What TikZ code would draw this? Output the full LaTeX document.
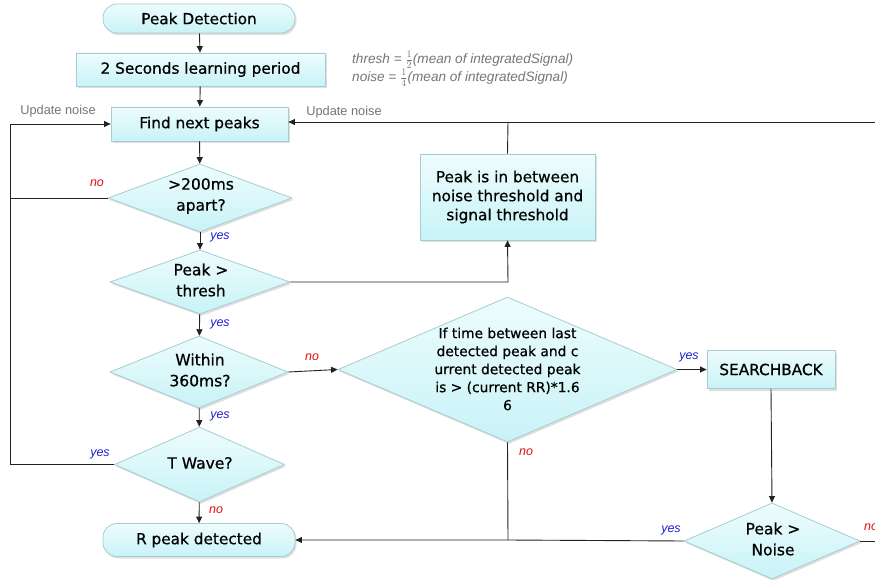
\documentclass[tikz,border=0pt]{standalone}
\usepackage{fontspec}
\setmainfont{DejaVu Sans}
\newfontfamily\boxfont[FakeBold=0.6]{DejaVu Sans}
\newfontfamily\annfont{Liberation Sans}
\usetikzlibrary{shapes.geometric,arrows.meta,shadows}
\definecolor{boxtop}{HTML}{EEFCFD}
\definecolor{boxbot}{HTML}{C8F3F7}
\definecolor{boxline}{HTML}{A6CDD2}
\definecolor{lnk}{HTML}{222222}
\definecolor{yescol}{HTML}{1E1EDC}
\definecolor{nocol}{HTML}{E01010}
\definecolor{updcol}{HTML}{767676}
\tikzset{
  fillbox/.style={draw=boxline, line width=0.8pt, top color=boxtop, bottom color=boxbot,
    drop shadow={opacity=0.25, shadow xshift=1.5pt, shadow yshift=-2pt}},
  rectbox/.style={fillbox, rectangle, inner sep=0pt, font=\boxfont\fontsize{15.3}{19}\selectfont, align=center},
  pill/.style={fillbox, rectangle, rounded corners=14pt, inner sep=0pt, font=\boxfont\fontsize{15.3}{19}\selectfont},
  dia/.style={fillbox, diamond, inner sep=0pt},
  diatext/.style={font=\boxfont\fontsize{15.5}{21}\selectfont, align=center, inner sep=0pt},
  conn/.style={draw=lnk, line width=0.9pt},
  arr/.style={conn, -{Triangle[length=6.5pt,width=6pt]}},
  yeslab/.style={text=yescol, font=\annfont\itshape\fontsize{12.5}{13}\selectfont, inner sep=0pt},
  nolab/.style={text=nocol, font=\annfont\itshape\fontsize{12.5}{13}\selectfont, inner sep=0pt},
  updlab/.style={text=updcol, font=\annfont\fontsize{12.8}{13}\selectfont, inner sep=0pt},
}
\begin{document}
\begin{tikzpicture}[x=1pt,y=-1pt]
\useasboundingbox (0,0) rectangle (875,580);
\fill[white] (0,0) rectangle (875,580);

% main column
\node[pill, minimum width=192pt, minimum height=29pt] (pd) at (199,18.5) {Peak Detection};
\node[rectbox, minimum width=249pt, minimum height=33pt] (learn) at (200.5,69.5) {2 Seconds learning period};
\node[rectbox, minimum width=177pt, minimum height=34pt] (find) at (199.5,124) {Find next peaks};
\node[dia, minimum width=184pt, minimum height=68pt] (d200) at (200,198) {};
\node[diatext] (d200t) at (201,196) {>200ms\\apart?};
\node[dia, minimum width=180pt, minimum height=64pt] (thr) at (200,282) {};
\node[diatext] (thrt) at (201,280) {Peak >\\thresh};
\node[dia, minimum width=178pt, minimum height=72pt] (win) at (199,372) {};
\node[diatext] (wint) at (200,370) {Within\\360ms?};
\node[dia, minimum width=170pt, minimum height=75pt] (tw) at (199.5,464.5) {};
\node[diatext] (twt) at (200,463) {T Wave?};
\node[pill, minimum width=192pt, minimum height=33pt] (rp) at (199,540) {R peak detected};

% right side
\node[rectbox, minimum width=175pt, minimum height=86pt] (betw) at (507.5,197) {Peak is in between\\noise threshold and\\signal threshold};
\node[dia, minimum width=339pt, minimum height=145pt] (big) at (507.5,369.5) {};
\node[font=\boxfont\fontsize{13.8}{18}\selectfont, align=center, inner sep=0pt] (bigt) at (507.5,369) {If time between last\\detected peak and c\\urrent detected peak\\is > (current RR)*1.6\\6};
\node[rectbox, minimum width=128pt, minimum height=38pt] (sb) at (771,369.5) {SEARCHBACK};
\node[dia, minimum width=176pt, minimum height=76pt] (pn) at (772,541) {};
\node[diatext] (pnt) at (773,539) {Peak >\\Noise};

% annotation
\node[text=updcol, font=\annfont\itshape\fontsize{13.6}{16}\selectfont, align=left, anchor=north west, inner sep=0pt] (ann) at (352,51)
  {thresh = $\frac{1}{2}$(mean of integratedSignal)\\noise = $\frac{1}{4}$(mean of integratedSignal)};

% coordinates
\coordinate (lx1) at (10,198);
\coordinate (lx2) at (10,464.5);
\coordinate (lx3) at (10,124);
\coordinate (tr) at (508,282);
\coordinate (bt) at (508,122);
\coordinate (redge) at (875,122);
\coordinate (bb) at (508,540);
\coordinate (pnr) at (875,541);

% vertical flow
\draw[arr] (pd) -- (learn);
\draw[arr] (learn) -- (find);
\draw[arr] (find) -- (d200);
\draw[arr] (d200) -- (thr);
\draw[arr] (thr) -- (win);
\draw[arr] (win) -- (tw);
\draw[arr] (tw) -- (rp);

% left loop
\draw[conn] (d200.west) -- (lx1);
\draw[conn] (tw.west) -- (lx2);
\draw[arr] (lx2) -- (lx3) -- (find.west);

% thresh -> between
\draw[arr] (thr.east) -- (tr) -- (betw.south);
\draw[conn] (betw.north) -- (bt);
\draw[arr] (redge) -- (find.east |- redge);

% within -> big
\draw[arr] (win.east) -- (big.west);
\draw[arr] (big.east) -- (sb.west);
\draw[arr] (sb.south) -- (pn.north);
\draw[conn] (big.south) -- (bb);
\draw[arr] (pn.west) -- (bb) -- (rp.east);
\draw[conn] (pn.east) -- (pnr);

% labels
\node[nolab] (l1) at (97,183) {no};
\node[yeslab] (l2) at (220,237) {yes};
\node[yeslab] (l3) at (220,324) {yes};
\node[nolab] (l4) at (312,357) {no};
\node[yeslab] (l5) at (220,416) {yes};
\node[yeslab] (l6) at (100,454) {yes};
\node[nolab] (l7) at (216,510) {no};
\node[nolab] (l8) at (526,452) {no};
\node[yeslab] (l9) at (689,357) {yes};
\node[yeslab] (l10) at (671,530) {yes};
\node[nolab, anchor=west] (l11) at (864,527) {no};
\node[updlab] (u1) at (58,111) {Update noise};
\node[updlab] (u2) at (344,112) {Update noise};
\end{tikzpicture}
\end{document}
